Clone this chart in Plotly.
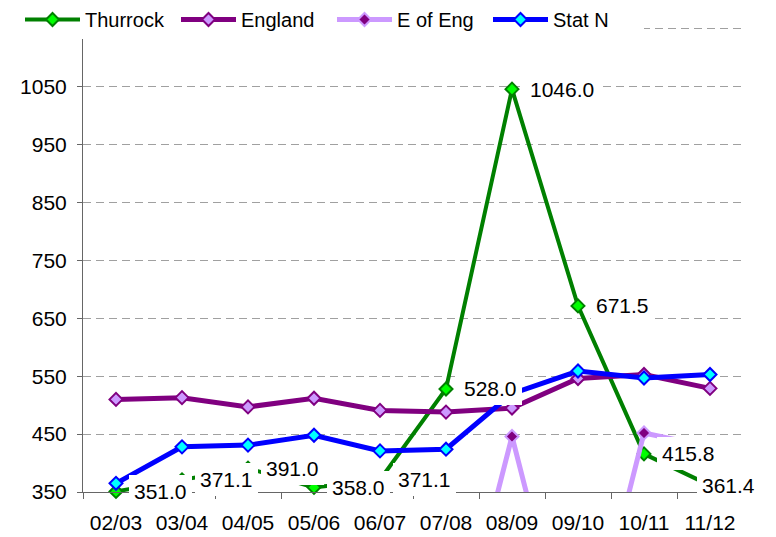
import plotly.graph_objects as go

years = ["02/03", "03/04", "04/05", "05/06", "06/07", "07/08", "08/09", "09/10", "10/11", "11/12"]
thurrock = [351.0, 371.1, 391.0, 358.0, 371.1, 528.0, 1046.0, 671.5, 415.8, 361.4]
england = [510, 513, 497, 512, 491, 488, 495, 546, 553, 529]
e_of_eng = [0, 0, 0, 0, 0, 0, 446, 0, 452, 428]
stat_n = [365, 428, 431, 448, 421, 424, 520, 559, 547, 553]
y_ticks = [350, 450, 550, 650, 750, 850, 950, 1050, 1150]
y_tick_text = ["350", "450", "550", "650", "750", "850", "950", "1050", ""]

FONT = "Arial, Liberation Sans, sans-serif"

series = [
    ("Thurrock", thurrock, "#008000", 4, "#00FF00", "#008000"),
    ("England", england, "#800080", 5, "#CC99FF", "#800080"),
    ("E of Eng", e_of_eng, "#CC99FF", 5, "#800080", "#CC99FF"),
    ("Stat N", stat_n, "#0000FF", 5, "#00FFFF", "#0000FF"),
]

fig = go.Figure()
for name, vals, lc, lw, mfill, mline in series:
    fig.add_trace(go.Scatter(
        x=years, y=vals, name=name, mode="lines+markers",
        line=dict(color=lc, width=lw),
        marker=dict(symbol="diamond", size=10, color=mfill, line=dict(color=mline, width=2)),
        cliponaxis=False,
    ))

annotations = []
last = len(years) - 1
for i, (x, v) in enumerate(zip(years, thurrock)):
    annotations.append(dict(
        x=x, y=v, xref="x", yref="y", text=f"{v:.1f}", showarrow=False,
        xanchor="left", yanchor="middle", xshift=(-13 if i == last else 13),
        bgcolor="white", bordercolor="white", borderwidth=1, borderpad=4,
        font=dict(family=FONT, size=21, color="black"),
    ))

ML, MR = 20, 33
plot_w = 776 - ML - MR
x_dom_start = (83 - ML) / plot_w

fig.update_layout(
    template="none",
    width=776, height=537,
    margin=dict(l=ML, r=MR, t=0, b=45, pad=0),
    paper_bgcolor="white", plot_bgcolor="white",
    font=dict(family=FONT, size=21, color="black"),
    annotations=annotations,
    showlegend=True,
    legend=dict(
        orientation="h", x=0, y=1, xanchor="left", yanchor="top",
        bgcolor="white", borderwidth=0, font=dict(family=FONT, size=20, color="black"),
        itemwidth=55, entrywidth=86, tracegroupgap=0,
    ),
    xaxis=dict(
        type="category", range=[-0.5, 9.5], tickson="boundaries", automargin=False,
        domain=[x_dom_start, 1],
        ticks="outside", ticklen=6, tickcolor="#666666",
        showline=True, linecolor="#666666", linewidth=1,
        showgrid=False, zeroline=False, ticklabelstandoff=12,
        tickfont=dict(family=FONT, size=21, color="black"),
    ),
    yaxis=dict(
        range=[350, 1200], tickvals=y_ticks, ticktext=y_tick_text, automargin=False,
        ticks="outside", ticklen=5, tickcolor="#666666",
        showline=True, linecolor="#666666", linewidth=1,
        showgrid=True, gridcolor="#A0A0A0", gridwidth=1, griddash="8px,5px",
        zeroline=False, ticklabelstandoff=6,
        tickfont=dict(family=FONT, size=21, color="black"),
    ),
)

fig.write_html("out.html", config={"displayModeBar": False},
               post_script="document.body.style.margin='0';")
